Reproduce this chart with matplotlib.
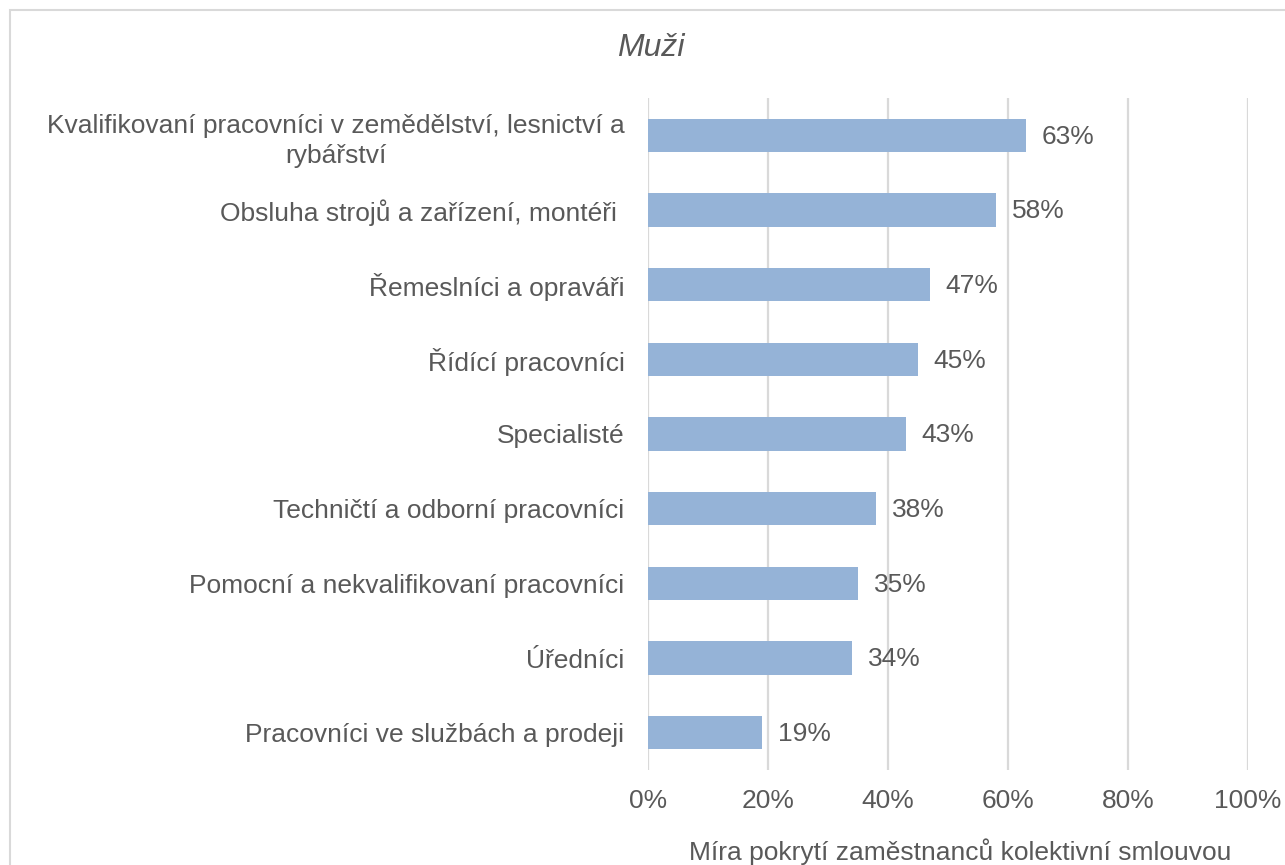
#!/usr/bin/env python3
"""Collective agreement coverage by occupation group (men)."""
import matplotlib
matplotlib.use("Agg")
import matplotlib.pyplot as plt
from matplotlib.patches import Rectangle

occupations = [
    "Kvalifikovaní pracovníci v zemědělství, lesnictví a\nrybářství",
    "Obsluha strojů a zařízení, montéři ",
    "Řemeslníci a opraváři",
    "Řídící pracovníci",
    "Specialisté",
    "Techničtí a odborní pracovníci",
    "Pomocní a nekvalifikovaní pracovníci",
    "Úředníci",
    "Pracovníci ve službách a prodeji",
]
coverage = [63, 58, 47, 45, 43, 38, 35, 34, 19]
x_ticks = [0, 20, 40, 60, 80, 100]
x_tick_labels = ["0%", "20%", "40%", "60%", "80%", "100%"]

TEXT = "#595959"
BAR = "#95B3D7"
GRID = "#D9D9D9"

plt.rcParams["font.family"] = ["Liberation Sans", "DejaVu Sans"]

W, H = 1285, 865
fig = plt.figure(figsize=(W / 100, H / 100), dpi=100)
fig.patch.set_facecolor("white")

# chart frame (runs off the right and bottom edges)
fig.patches.append(Rectangle((10 / W, -0.05), 1.2, 1 - 10 / H + 0.05,
                             transform=fig.transFigure, fill=False,
                             edgecolor=GRID, linewidth=1.5))

ax = fig.add_axes([648 / W, 1 - 770 / H, 600 / W, (770 - 98) / H])
ypos = list(range(len(occupations)))
ax.barh(ypos, coverage, height=0.45, color=BAR, zorder=3)
for y, v in zip(ypos, coverage):
    ax.text(v + 2.6, y + 0.02, f"{v}%", va="center", ha="left", fontsize=19, color=TEXT)

ax.set_xlim(0, 100)
ax.set_ylim(len(occupations) - 0.5, -0.5)
ax.set_xticks(x_ticks)
ax.set_xticklabels(x_tick_labels)
ax.set_yticks(ypos)
ax.set_yticklabels(occupations, multialignment="center", linespacing=1.35)
ax.tick_params(axis="both", length=0, labelsize=19, labelcolor=TEXT)
ax.tick_params(axis="y", pad=17)
ax.tick_params(axis="x", pad=14)
ax.grid(axis="x", color=GRID, linewidth=1.6, zorder=0)
for s in ax.spines.values():
    s.set_visible(False)

fig.text(651 / W, 1 - 48 / H, "Muži", ha="center", va="center",
         fontsize=23, style="italic", color=TEXT)
fig.text(960 / W, 1 - 852 / H, "Míra pokrytí zaměstnanců kolektivní smlouvou",
         ha="center", va="center", fontsize=19, color=TEXT)

fig.savefig("out.png", dpi=100)
